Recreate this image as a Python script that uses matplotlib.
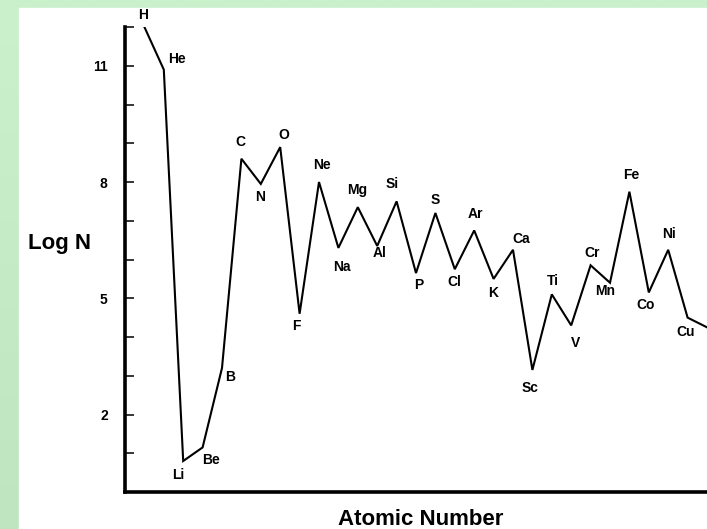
import numpy as np
import matplotlib.pyplot as plt
from matplotlib.colors import LinearSegmentedColormap
from matplotlib.patches import Rectangle

plt.rcParams['font.family'] = ['Liberation Sans', 'DejaVu Sans']
plt.rcParams['font.weight'] = 'bold'

# Solar abundances, log N (H = 12), Z = 1..30
symbols = ['H', 'He', 'Li', 'Be', 'B', 'C', 'N', 'O', 'F', 'Ne',
           'Na', 'Mg', 'Al', 'Si', 'P', 'S', 'Cl', 'Ar', 'K', 'Ca',
           'Sc', 'Ti', 'V', 'Cr', 'Mn', 'Fe', 'Co', 'Ni', 'Cu', 'Zn']
atomic_number = list(range(1, 31))
log_n = [12.0, 10.9, 0.8, 1.15, 3.2, 8.6, 7.95, 8.9, 4.6, 8.0,
         6.3, 7.35, 6.35, 7.5, 5.65, 7.2, 5.75, 6.75, 5.5, 6.25,
         3.15, 5.1, 4.3, 5.85, 5.4, 7.75, 5.15, 6.25, 4.5, 4.25]
ytick_values = list(range(1, 13))
ytick_labels = ['', '2', '', '', '5', '', '', '8', '', '', '11', '']

# where each symbol sits relative to its vertex (pixels, x right / y up)
label_offsets = [(-1, 11), (13, 10), (-5, -15), (8, -14), (8, -10),
                 (-1, 16), (-1, -14), (4, 11), (-3, -13), (3, 16),
                 (3, -20), (-1, 16), (2, -8), (-4, 16), (3, -13),
                 (0, 12), (0, -14), (1, 15), (0, -15), (8, 10),
                 (-2, -19), (1, 12), (4, -19), (2, 11), (-5, -9),
                 (2, 16), (-3, -14), (1, 15), (-2, -15), (0, 12)]

fig = plt.figure(figsize=(7.07, 5.29), dpi=100)

# green frame with white panel
bg = fig.add_axes([0, 0, 1, 1], zorder=-2)
bg.axis('off')
green = LinearSegmentedColormap.from_list('frame', ['#bee5c0', '#caf0cc'])
bg.imshow(np.linspace(0, 1, 256)[:, None], extent=[0, 1, 0, 1],
          aspect='auto', origin='lower', cmap=green)
bg.add_patch(Rectangle((19 / 707, 0), 1, 1 - 8 / 529, color='white'))
bg.set_xlim(0, 1)
bg.set_ylim(0, 1)

ax = fig.add_axes([125 / 707, 1 - 492 / 529, 582 / 707, 465 / 529])
ax.patch.set_alpha(0)
ax.plot(atomic_number, log_n, color='black', lw=1.5, solid_joinstyle='miter')

# Zn falls on the right edge, so it gets no symbol
for sym, z, v, (dx, dy) in zip(symbols[:-1], atomic_number, log_n, label_offsets):
    ax.annotate(sym, (z, v), xytext=(dx, dy + 1), textcoords='offset pixels',
                ha='center', va='center', fontsize=10, fontweight='bold')

ax.set_xlim(0, 30)
ax.set_ylim(0, 12)
ax.spines['top'].set_visible(False)
ax.spines['right'].set_visible(False)
for side in ['left', 'bottom']:
    ax.spines[side].set_linewidth(2.6)
ax.set_xticks([])
ax.set_yticks(ytick_values)
ax.set_yticklabels(ytick_labels)
ax.tick_params(axis='y', direction='in', length=6.5, width=1.1, pad=12.5,
               labelsize=10)

fig.text(59.5 / 707, 1 - 249.3 / 529, 'Log N', ha='center', va='baseline',
         fontsize=16, fontweight='bold')
fig.text(420.5 / 707, 1 - 525 / 529, 'Atomic Number', ha='center',
         va='baseline', fontsize=16, fontweight='bold')

fig.savefig('out.png', dpi=100)
